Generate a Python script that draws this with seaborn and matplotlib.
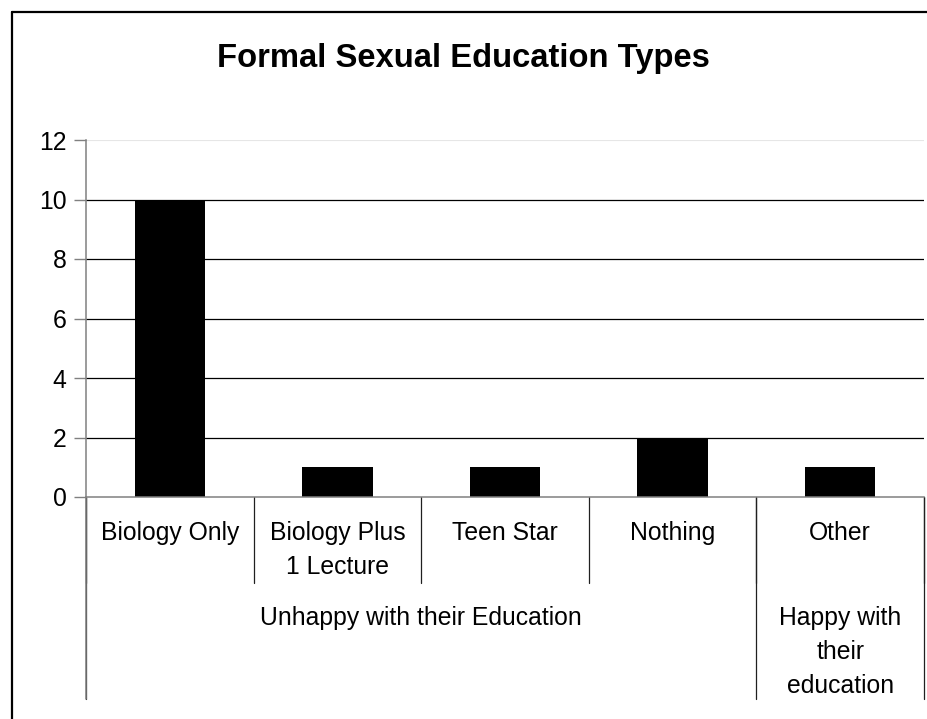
import matplotlib
matplotlib.use("Agg")
import numpy as np
import seaborn as sns
from matplotlib import pyplot as plt
from matplotlib import transforms
from matplotlib.lines import Line2D

# Data
categories = ['Biology Only', 'Biology Plus\n1 Lecture', 'Teen Star', 'Nothing', 'Other']
counts = [10, 1, 1, 2, 1]
groups = ['Unhappy with their Education', 'Happy with\ntheir\neducation']
group_sizes = [4, 1]
y_ticks = [0, 2, 4, 6, 8, 10, 12]
title = 'Formal Sexual Education Types'

sns.set_style('white')
plt.rcParams['font.family'] = ['Liberation Sans', 'DejaVu Sans']
plt.rcParams['text.color'] = 'black'
plt.rcParams['ytick.labelcolor'] = 'black'

W, H = 927, 719
fig = plt.figure(figsize=(W / 100, H / 100), dpi=100)

# plot area in pixels: x 86..924, y 140..497
ax_l, ax_r, ax_t, ax_b = 86, 924, 140, 497
ax = fig.add_axes([ax_l / W, 1 - ax_b / H, (ax_r - ax_l) / W, (ax_b - ax_t) / H])

sns.barplot(x=list(range(len(categories))), y=counts, color='black', width=0.42,
            saturation=1, ax=ax, edgecolor='black', linewidth=0)

fs = 17.8
ax.set_xlim(-0.5, len(categories) - 0.5)
ax.set_ylim(0, 12)
ax.set_yticks(y_ticks)
ax.set_yticklabels([str(t) for t in y_ticks], fontsize=fs)
ax.tick_params(axis='y', length=9, width=1, color='#808080', pad=5, direction='out', left=True)
ax.set_xticks([])
ax.set_xlabel('')
ax.set_ylabel('')

# gridlines
for t in y_ticks[1:-1]:
    ax.axhline(t, color='black', lw=0.9, zorder=0)
ax.axhline(12, color='#e6e6e6', lw=0.8, zorder=0)

for s in ['top', 'right']:
    ax.spines[s].set_visible(False)
ax.spines['left'].set_color('#808080')
ax.spines['bottom'].set_color('#808080')
ax.spines['left'].set_linewidth(1.1)
ax.spines['bottom'].set_linewidth(1.1)

# multi-level category axis
trans = transforms.blended_transform_factory(ax.transData, ax.transAxes)
h_ax = ax_b - ax_t


def ay(ypix):
    return (ax_b - ypix) / h_ax


for i in range(len(categories) + 1):
    ax.add_line(Line2D([i - 0.5, i - 0.5], [0, ay(583)], transform=trans,
                       color='#202020', lw=0.9, clip_on=False))
edges = np.concatenate([[0], np.cumsum(group_sizes)]) - 0.5
for e in edges:
    ax.add_line(Line2D([e, e], [0, ay(699)], transform=trans,
                       color='#202020', lw=0.9, clip_on=False))
ax.add_line(Line2D([-0.5, -0.5], [0, ay(699)], transform=trans,
                   color='#808080', lw=1.1, clip_on=False))

for i, lab in enumerate(categories):
    ax.text(i, ay(521), lab, transform=trans, ha='center', va='top',
            fontsize=fs, linespacing=1.5)

for g, (lab, a, b) in enumerate(zip(groups, edges[:-1], edges[1:])):
    ax.text((a + b) / 2, ay(606), lab, transform=trans, ha='center', va='top',
            fontsize=fs, linespacing=1.52)

fig.text(463 / W, 1 - 58 / H, title, ha='center', va='center',
         fontsize=23.6, fontweight='bold')

# chart area border (cropped at right and bottom)
fig.add_artist(Line2D([11.5 / W, 11.5 / W], [0, 1 - 11.5 / H], transform=fig.transFigure,
                      color='black', lw=1.6))
fig.add_artist(Line2D([11.5 / W, 1], [1 - 11.5 / H, 1 - 11.5 / H], transform=fig.transFigure,
                      color='black', lw=1.6))

fig.savefig('out.png', dpi=100, facecolor='white')
